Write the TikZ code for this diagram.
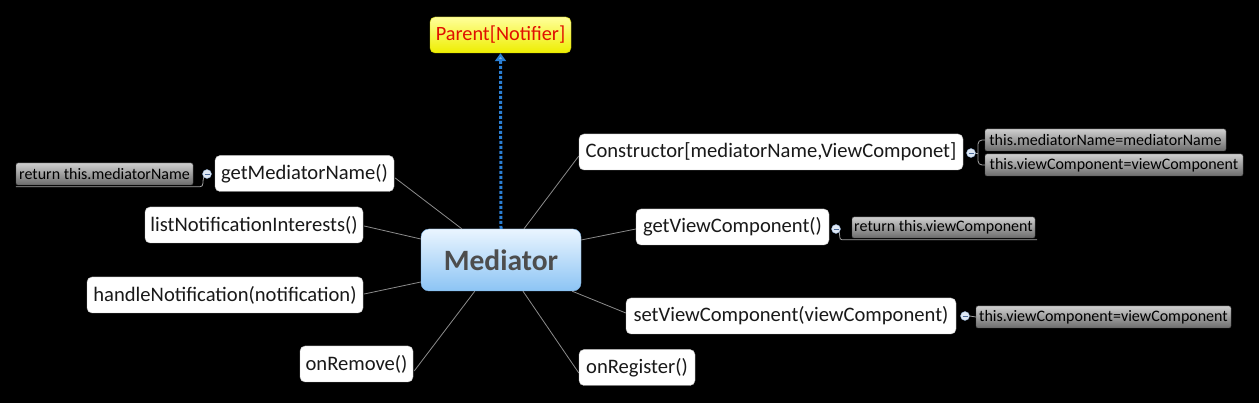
\documentclass[tikz,border=0pt]{standalone}
\usepackage{fontspec}
\setmainfont{Carlito}
\usetikzlibrary{arrows.meta,calc}
\definecolor{linegray}{HTML}{8C8C8C}
\definecolor{boxborder}{HTML}{B8B8B8}
\definecolor{gtop}{HTML}{CFCFCF}
\definecolor{gbot}{HTML}{6C6C6C}
\definecolor{gborder}{HTML}{4A4A4A}
\definecolor{medtop}{HTML}{EAF5FF}
\definecolor{medbot}{HTML}{8CC4F4}
\definecolor{medborder}{HTML}{7AAEE0}
\definecolor{medtext}{HTML}{4D4D4D}
\definecolor{yeltop}{HTML}{FFFF9A}
\definecolor{yelbot}{HTML}{EEEE00}
\definecolor{yelborder}{HTML}{C8C800}
\definecolor{redtext}{HTML}{E01000}
\definecolor{arrowblue}{HTML}{2A7FD4}
\definecolor{circfill}{HTML}{DFE8F4}
\definecolor{circdraw}{HTML}{8AA6C8}
\definecolor{circminus}{HTML}{4A6A9A}
\tikzset{
  mainbox/.style={draw=boxborder, fill=white, rounded corners=5pt, inner sep=0pt,
    minimum height=36pt, text=black!90, font=\fontsize{20.6}{24}\selectfont},
  graybox/.style={draw=gborder, top color=gtop, bottom color=gbot, rounded corners=2pt,
    inner sep=0pt, minimum height=22pt, text=black, font=\fontsize{16}{18}\selectfont},
  medbox/.style={draw=medborder, top color=medtop, bottom color=medbot, rounded corners=8pt,
    inner sep=0pt, minimum width=160pt, minimum height=62pt, text=medtext,
    font=\fontsize{29.5}{34}\selectfont\bfseries},
  parentbox/.style={draw=yelborder, top color=yeltop, bottom color=yelbot, rounded corners=5pt,
    inner sep=0pt, minimum width=141pt, minimum height=36pt, text=redtext,
    font=\fontsize{20.3}{24}\selectfont},
  link/.style={draw=linegray, line width=0.8pt},
  sublink/.style={draw=linegray!80, line width=0.8pt},
  collapse/.style={circle, minimum size=9pt, inner sep=0pt, draw=circdraw, fill=circfill,
    path picture={\draw[circminus, line width=0.8pt]
      ([xshift=-2.5pt]path picture bounding box.center) -- ([xshift=2.5pt]path picture bounding box.center);}},
  inherit/.style={draw=arrowblue, line width=3pt, dash pattern=on 3pt off 2pt,
    -{Triangle[open, length=8pt, width=11pt, line width=2pt, fill=arrowblue!60]}}
}
\begin{document}
\begin{tikzpicture}[x=1pt,y=-1pt]
\fill[black] (0,0) rectangle (1259,403);
\useasboundingbox (0,0) rectangle (1259,403);

% central and parent
\node[medbox] (med) at (501,260) {Mediator};
\node[parentbox] (parent) at (500.5,35) {Parent[Notifier]};

% left nodes
\node[mainbox, minimum width=179pt] (gmn) at (304.5,173.5) {getMediatorName()};
\node[mainbox, minimum width=218pt] (lni) at (254,225) {listNotificationInterests()};
\node[mainbox, minimum width=276pt] (hn) at (225,295) {handleNotification(notification)};
\node[mainbox, minimum width=113pt] (orm) at (356.5,364) {onRemove()};

% right nodes
\node[mainbox, minimum width=384pt] (con) at (771,152) {Constructor[mediatorName,ViewComponet]};
\node[mainbox, minimum width=193pt] (gvc) at (732.5,227) {getViewComponent()};
\node[mainbox, minimum width=330pt] (svc) at (791,316) {setViewComponent(viewComponent)};
\node[mainbox, minimum width=116pt] (orr) at (637,367.5) {onRegister()};

% gray detail boxes
\node[graybox, minimum width=177pt] (rmn) at (104.5,174) {return this.mediatorName};
\node[graybox, minimum width=241pt] (g1) at (1105.5,140) {this.mediatorName=mediatorName};
\node[graybox, minimum width=258pt] (g2) at (1114,165) {this.viewComponent=viewComponent};
\node[graybox, minimum width=183pt, minimum height=21pt] (rvc) at (943.5,227.5) {return this.viewComponent};
\node[graybox, minimum width=255pt] (g3) at (1103.5,317) {this.viewComponent=viewComponent};

% collapse markers
\node[collapse] (c0) at (207,174) {};
\node[collapse] (c1) at (971,153) {};
\node[collapse] (c2) at (836,229) {};
\node[collapse] (c3) at (965,316) {};

% inheritance arrow
\draw[inherit] (med.north) -- (parent.south);

% connectors from Mediator
\draw[link] ([shift={(1,4.5)}]gmn.east) -- ([shift={(41,0)}]med.north west);
\draw[link] ([shift={(1,1)}]lni.east) -- ([shift={(0,-21)}]med.west);
\draw[link] ([shift={(1,-1)}]hn.east) -- ([shift={(0,22)}]med.west);
\draw[link] ([shift={(1,7)}]orm.east) -- ([shift={(54,0)}]med.south west);
\draw[link] ([shift={(22,0)}]med.south) -- ([shift={(0,5.5)}]orr.west);
\draw[link] ([shift={(-9,0)}]med.south east) -- ([shift={(0,-3)}]svc.west);
\draw[link] ([shift={(0,-20)}]med.east) -- ([shift={(0,2)}]gvc.west);
\draw[link] ([shift={(23,0)}]med.north) -- ([shift={(0,4)}]con.west);

% sub connectors
\coordinate (u0) at ($(rmn.south east)+(7,1.5)$);
\draw[sublink] (c0.south west) to[out=-110, in=0] (u0) -- ([shift={(0,1.5)}]rmn.south west);
\coordinate (u2) at ($(rvc.south west)+(-10,1.5)$);
\draw[sublink] (c2.south east) to[out=-70, in=180] (u2) -- ([shift={(2,1.5)}]rvc.south east);
\coordinate (b1) at (978,153);
\draw[sublink] (c1.east) -- (b1);
\draw[sublink, rounded corners=4pt] (g1.west) -| (b1) |- (g2.west);
\draw[sublink] (c3.east) -- (g3.west);
\end{tikzpicture}
\end{document}
